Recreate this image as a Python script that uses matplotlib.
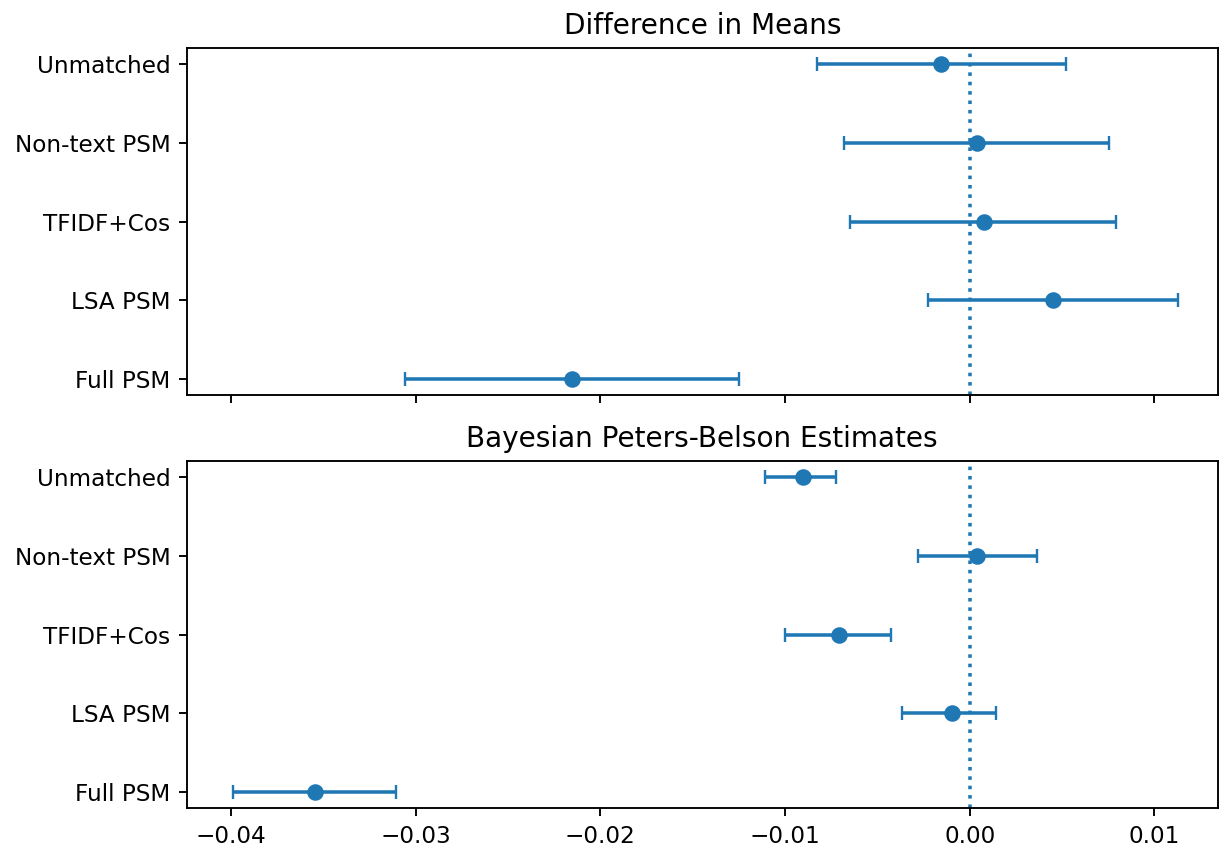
import matplotlib
matplotlib.use("Agg")
import matplotlib.pyplot as plt
import numpy as np

methods = ["Unmatched", "Non-text PSM", "TFIDF+Cos", "LSA PSM", "Full PSM"]

# difference in means: estimate, lower, upper
dm_est = [-0.00153, 0.00039, 0.00075, 0.00452, -0.02153]
dm_lo = [-0.00827, -0.00683, -0.00647, -0.00225, -0.03056]
dm_hi = [0.00524, 0.00755, 0.00791, 0.01128, -0.01247]

# bayesian peters-belson
pb_est = [-0.00905, 0.00037, -0.00706, -0.00096, -0.03545]
pb_lo = [-0.01108, -0.00282, -0.00998, -0.00369, -0.03989]
pb_hi = [-0.00724, 0.00367, -0.00426, 0.00142, -0.03105]

titles = ["Difference in Means", "Bayesian Peters-Belson Estimates"]

plt.rcParams['font.size'] = 9.8

fig, axes = plt.subplots(2, 1, sharex=True, figsize=(1220/170, 847/170), dpi=170)
fig.subplots_adjust(left=0.1533, right=0.998, top=0.9433, bottom=0.046, hspace=0.19)

ypos = np.arange(len(methods))[::-1]
for ax, est, lo, hi, title in zip(axes, [dm_est, pb_est], [dm_lo, pb_lo], [dm_hi, pb_hi], titles):
    est = np.array(est); lo = np.array(lo); hi = np.array(hi)
    err = [est - lo, hi - est]
    ax.errorbar(est, ypos, xerr=err, fmt='o', color='C0', capsize=3)
    ax.axvline(0, color='C0', linestyle=':')
    ax.set_yticks(ypos)
    ax.set_yticklabels(methods)
    ax.set_title(title, fontsize=11.8)

axes[1].set_xlim(-0.04238, 0.01342)

plt.savefig("out.png", dpi=170)
